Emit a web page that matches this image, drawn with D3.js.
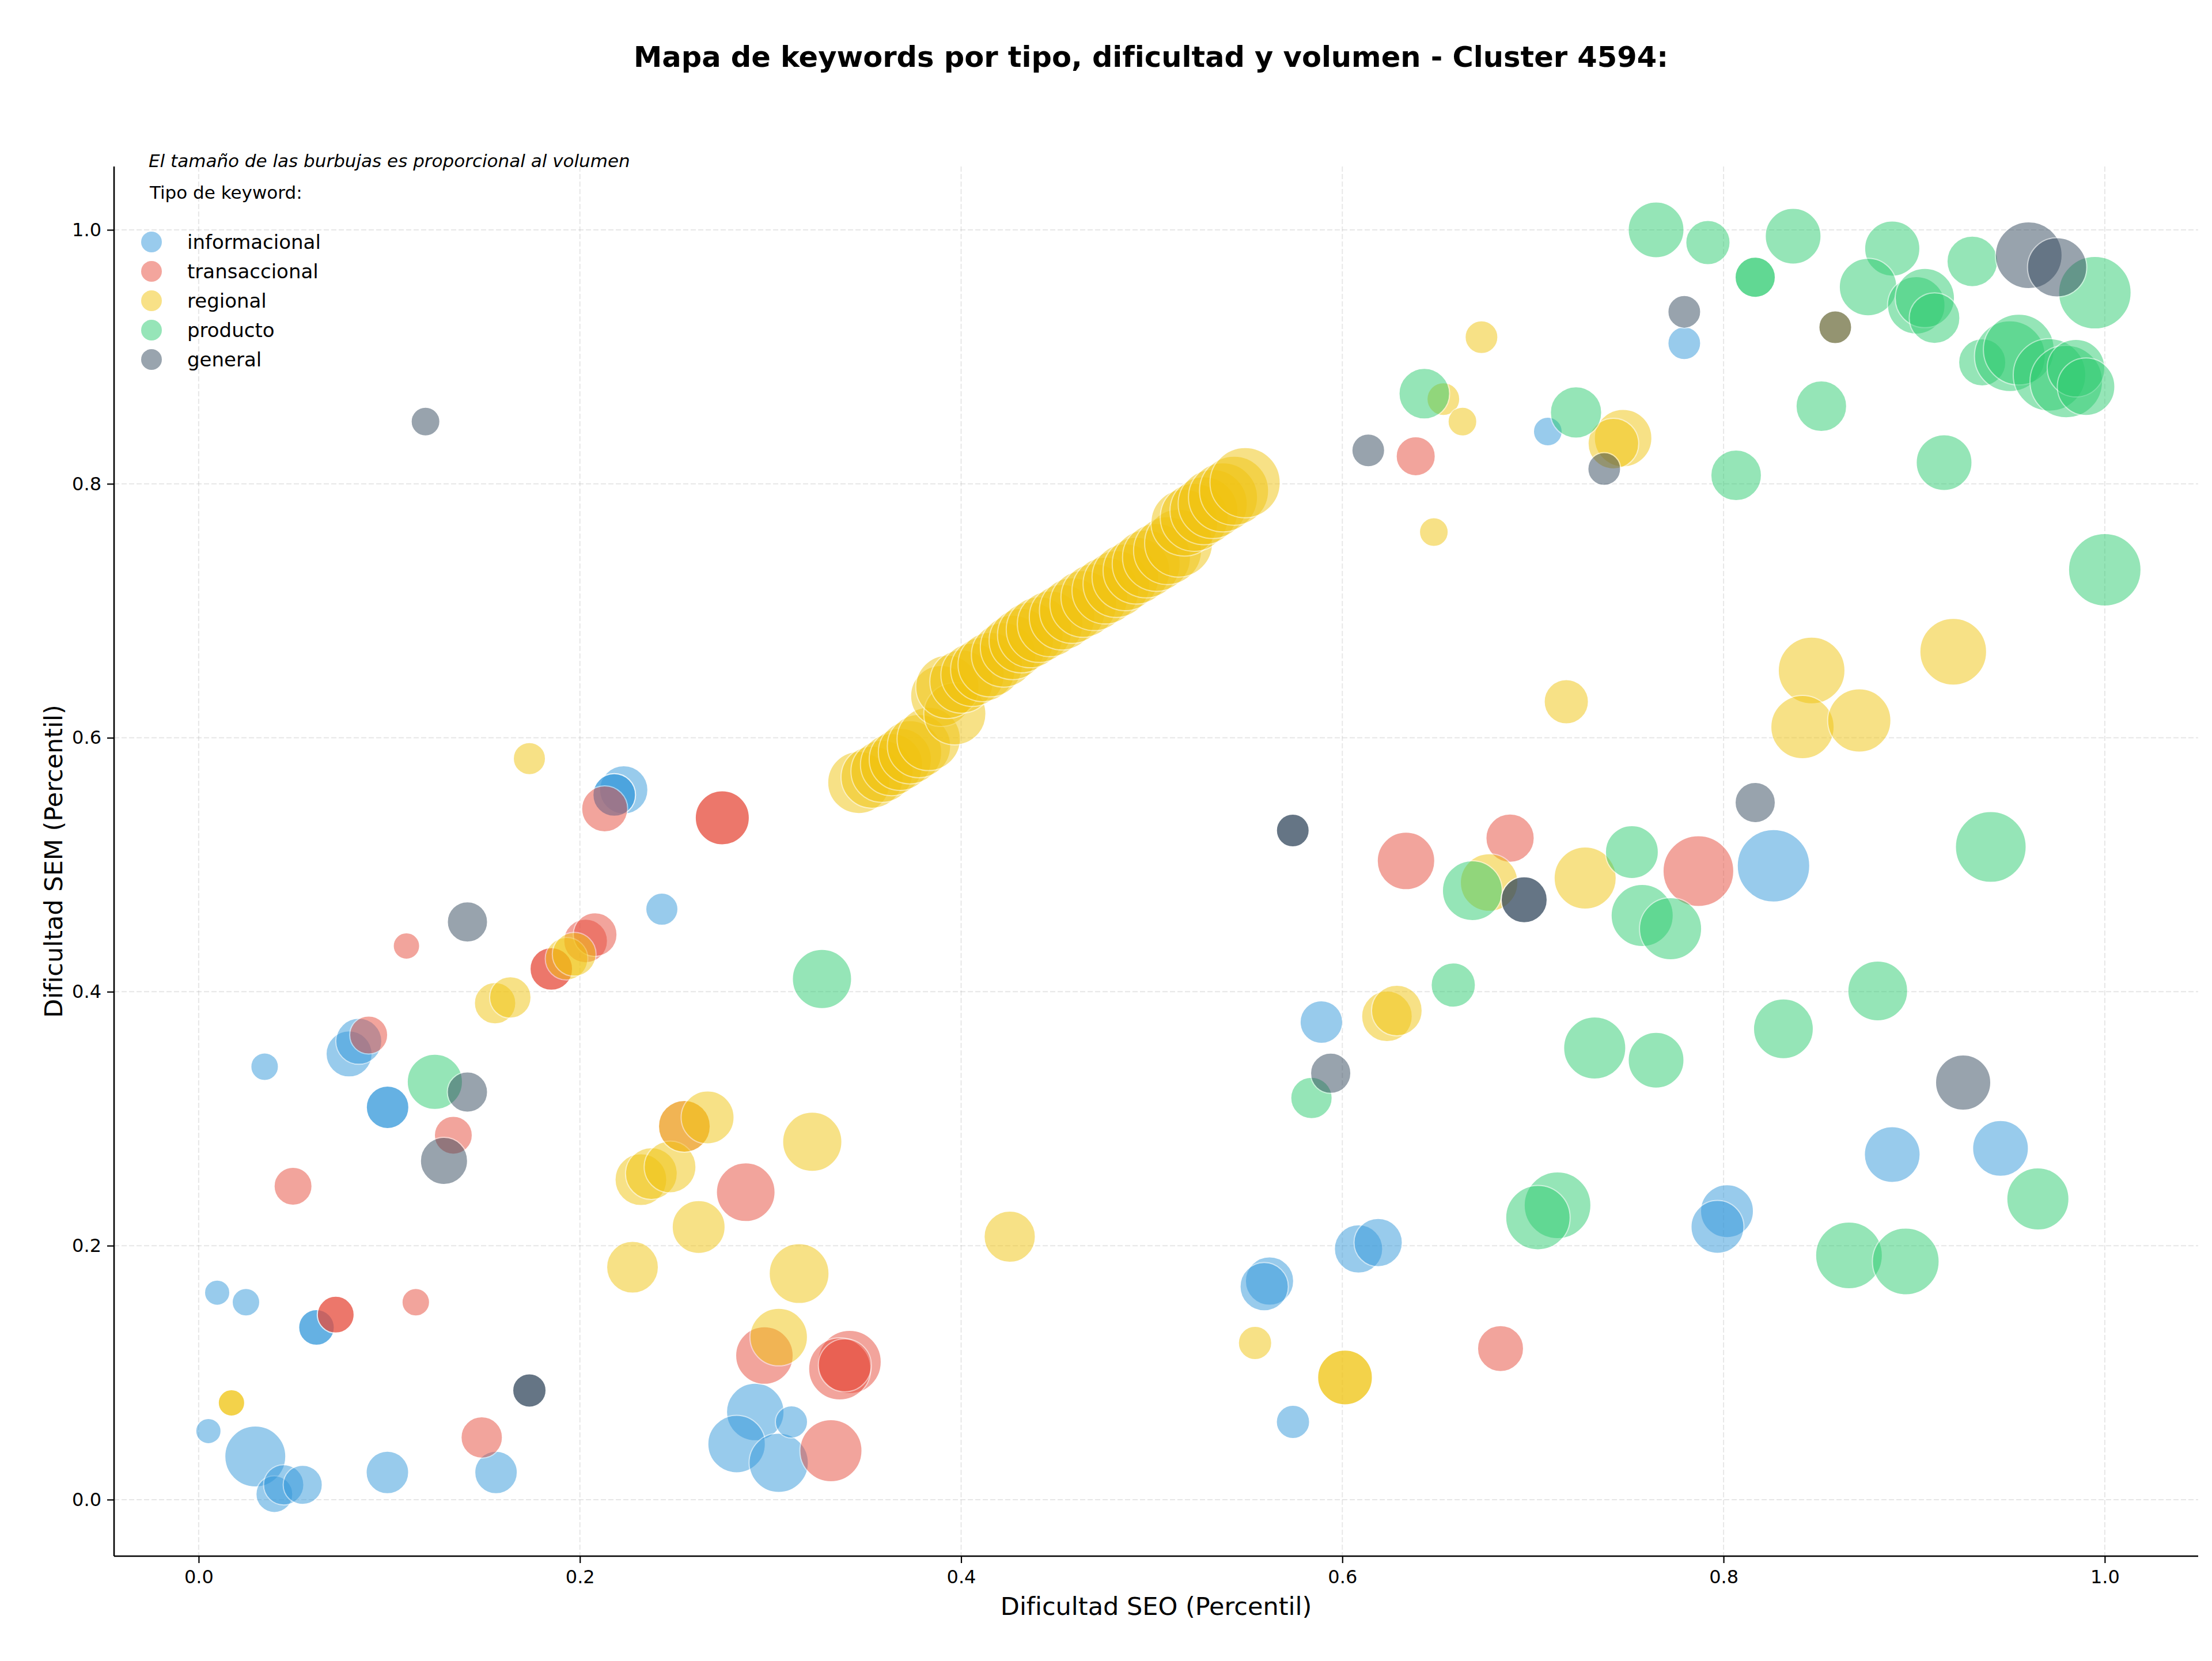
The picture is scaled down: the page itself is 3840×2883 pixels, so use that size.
<!DOCTYPE html>
<html lang="es">
<head>
<meta charset="utf-8">
<script src="https://d3js.org/d3.v7.min.js"></script>
<style>
  body { margin: 0; background: #fff; }
  svg { display: block; font-family: "DejaVu Sans", sans-serif; }
</style>
</head>
<body>
<div id="chart"></div>
<script>
// tipos y colores
var tipos = ["informacional", "transaccional", "regional", "producto", "general"];
var colores = ["#3498db", "#e74c3c", "#f1c40f", "#2ecc71", "#34495e"];
var ticks = [0.0, 0.2, 0.4, 0.6, 0.8, 1.0];

// [dificultad SEO, dificultad SEM, volumen]
var informacional = [
  [0.0346,0.341,576],[0.0789,0.351,1600],[0.084,0.361,1600],[0.0991,0.309,1369],[0.0991,0.309,1369],
  [0.0097,0.163,484],[0.0248,0.1555,576],[0.0618,0.1356,961],[0.0618,0.1356,961],[0.0051,0.054,484],
  [0.0297,0.034,2809],[0.0397,0.0043,1024],[0.0446,0.0117,1225],[0.0546,0.0117,1156],[0.099,0.0214,1369],
  [0.156,0.0214,1369],[0.243,0.465,784],[0.292,0.069,2500],[0.2822,0.0438,2500],[0.3043,0.029,2652],
  [0.311,0.0612,784],[0.223,0.559,1764],[0.218,0.555,1369],[0.218,0.555,1369],[0.5618,0.1722,1764],
  [0.559,0.1677,1764],[0.6085,0.1974,1764],[0.6188,0.2025,1764],[0.5741,0.0612,841],[0.589,0.3761,1369],
  [0.7078,0.8412,625],[0.7794,0.9107,812],[0.8262,0.4992,3969],[0.8885,0.2718,2352],[0.9453,0.2766,2352],
  [0.8018,0.2272,2116],[0.7968,0.2148,2116]
];
var transaccional = [
  [0.109,0.436,529],[0.185,0.418,1369],[0.185,0.418,1369],[0.203,0.440,1444],[0.208,0.445,1444],
  [0.0892,0.3659,1089],[0.1336,0.287,1089],[0.0495,0.2468,1089],[0.0719,0.1457,1024],[0.0719,0.1457,1024],
  [0.1139,0.1555,576],[0.1485,0.049,1296],[0.2548,0.294,2025],[0.287,0.2421,2601],[0.2968,0.1135,2500],
  [0.3415,0.1084,3025],[0.3363,0.103,2916],[0.339,0.1058,2116],[0.3317,0.0385,2916],[0.213,0.544,1600],
  [0.2747,0.537,2209],[0.2747,0.537,2209],[0.6385,0.8217,1156],[0.6334,0.503,2500],[0.688,0.521,1764],
  [0.7868,0.495,3782],[0.683,0.119,1600]
];
var regional = [
  [0.0172,0.0762,529],[0.0172,0.0762,529],[0.1555,0.391,1296],[0.1635,0.3955,1296],[0.193,0.426,1369],
  [0.197,0.4295,1444],[0.2276,0.183,2025],[0.232,0.252,2025],[0.2375,0.2568,2025],[0.2473,0.262,2025],
  [0.2548,0.294,2025],[0.267,0.301,2116],[0.2623,0.2147,2116],[0.3043,0.128,2500],[0.3219,0.2818,2652],
  [0.315,0.178,2704],[0.4255,0.2071,1989],[0.1735,0.5836,784],[0.673,0.9155,812],[0.653,0.8667,812],
  [0.663,0.849,625],[0.648,0.762,625],[0.5542,0.1234,841],[0.6014,0.0962,2266],[0.6014,0.0962,2266],
  [0.6234,0.3806,1936],[0.6286,0.3852,1936],[0.677,0.486,2500],[0.7274,0.4895,2916],[0.7473,0.836,2500],
  [0.7422,0.8317,1936],[0.8462,0.653,3364],[0.8414,0.6084,3025],[0.8712,0.6136,3025],[0.9205,0.6678,3364],
  [0.7175,0.6284,1482],[0.8586,0.9233,812],
  // diagonal
  [0.3463,0.5648,2916],[0.3533,0.5690,2916],[0.3585,0.5736,2916],[0.3635,0.5788,2916],[0.3681,0.5830,2916],
  [0.3732,0.5886,3025],[0.3779,0.5935,3025],[0.3830,0.5991,3025],[0.3895,0.6329,2809],[0.3967,0.6188,2916],
  [0.3928,0.6401,3025],[0.4002,0.6443,3025],[0.4060,0.6496,3025],[0.4114,0.6538,3136],[0.4153,0.6576,3136],
  [0.4223,0.6653,3136],[0.4270,0.6712,3136],[0.4316,0.6765,3136],[0.4363,0.6810,3249],[0.4409,0.6852,3249],
  [0.4467,0.6897,3249],[0.4530,0.6950,3249],[0.4583,0.7002,3249],[0.4641,0.7054,3364],[0.4699,0.7107,3364],
  [0.4757,0.7159,3364],[0.4815,0.7211,3364],[0.4862,0.7264,3364],[0.4920,0.7316,3364],[0.4971,0.7369,3481],
  [0.5025,0.7421,3481],[0.5083,0.7474,3481],[0.5141,0.7533,3481],[0.5171,0.7694,3364],[0.5223,0.7736,3481],
  [0.5274,0.7788,3481],[0.5320,0.7841,3600],[0.5374,0.7893,3600],[0.5432,0.7946,3600],[0.5490,0.8009,3721]
];
var producto = [
  [0.1239,0.329,2304],[0.327,0.410,2652],[0.643,0.871,1936],[0.7646,1.0,2352],[0.7918,0.990,1482],
  [0.8365,0.995,2352],[0.8166,0.9627,1225],[0.8166,0.9627,1225],[0.8885,0.9853,2304],[0.8758,0.955,2500],
  [0.9011,0.9406,2500],[0.9056,0.9463,2652],[0.9107,0.9305,1936],[0.9305,0.9752,1936],[0.9948,0.9505,3969],
  [0.9357,0.8956,1681],[0.9502,0.9005,3782],[0.9549,0.9057,3782],[0.971,0.8858,3969],[0.9798,0.8806,3969],
  [0.9849,0.8911,2500],[0.9902,0.8765,2500],[0.8513,0.8611,1936],[0.7226,0.8562,1989],[0.8066,0.8067,1936],
  [0.9157,0.8167,2352],[1.0,0.7323,3969],[0.9402,0.514,3782],[0.7519,0.51,2116],[0.6682,0.4796,2704],
  [0.5838,0.3163,1296],[0.6582,0.4053,1482],[0.7573,0.460,2916],[0.7722,0.4496,2916],[0.8809,0.4006,2704],
  [0.8314,0.3708,2704],[0.7324,0.3557,2916],[0.7646,0.3461,2352],[0.9649,0.2368,2916],[0.7129,0.2318,3364],
  [0.7026,0.2221,3136],[0.8658,0.1924,3364],[0.8956,0.1876,3364]
];
var general = [
  [0.141,0.455,1225],[0.141,0.321,1225],[0.1287,0.2668,1681],[0.1735,0.086,841],[0.1735,0.086,841],
  [0.119,0.849,625],[0.574,0.527,812],[0.574,0.527,812],[0.6136,0.8263,812],[0.7794,0.9355,812],
  [0.8586,0.9233,812],[0.9601,0.980,3364],[0.975,0.9705,2652],[0.7374,0.8117,812],[0.8166,0.549,1225],
  [0.6954,0.4724,1600],[0.6954,0.4724,1600],[0.9257,0.3285,2304],[0.5939,0.3358,1225]
];

var series = [informacional, transaccional, regional, producto, general];

var W = 3840, H = 2883;
var margin = {left: 198, right: 24, top: 289, bottom: 182};

var svg = d3.select("#chart").append("svg")
    .attr("width", W)
    .attr("height", H);

var x = d3.scaleLinear().domain([-0.0444, 1.049]).range([margin.left, W - margin.right]);
var y = d3.scaleLinear().domain([-0.0445, 1.0499]).range([H - margin.bottom, margin.top]);
var r = d3.scaleSqrt().domain([0, 6400]).range([0, 80]);

// grid
var grid = svg.append("g");
grid.selectAll(".gx").data(ticks).enter().append("line")
    .attr("x1", d => x(d)).attr("x2", d => x(d))
    .attr("y1", margin.top).attr("y2", H - margin.bottom)
    .attr("stroke", "#b0b0b0").attr("stroke-opacity", 0.3)
    .attr("stroke-width", 2).attr("stroke-dasharray", "9,4");
grid.selectAll(".gy").data(ticks).enter().append("line")
    .attr("y1", d => y(d)).attr("y2", d => y(d))
    .attr("x1", margin.left).attr("x2", W - margin.right)
    .attr("stroke", "#b0b0b0").attr("stroke-opacity", 0.3)
    .attr("stroke-width", 2).attr("stroke-dasharray", "9,4");

// burbujas
series.forEach(function(pts, i) {
  svg.append("g").selectAll("circle")
    .data(pts).enter().append("circle")
    .attr("cx", d => x(d[0]))
    .attr("cy", d => y(d[1]))
    .attr("r", d => r(d[2]))
    .attr("fill", colores[i])
    .attr("stroke", "#fff")
    .attr("stroke-width", 2)
    .attr("opacity", 0.5);
});

// ejes
var xAxis = svg.append("g")
    .attr("transform", "translate(0," + (H - margin.bottom) + ")")
    .call(d3.axisBottom(x).tickValues(ticks).tickFormat(d3.format(".1f")).tickSizeOuter(0).tickSize(12).tickPadding(12));
var yAxis = svg.append("g")
    .attr("transform", "translate(" + margin.left + ",0)")
    .call(d3.axisLeft(y).tickValues(ticks).tickFormat(d3.format(".1f")).tickSizeOuter(0).tickSize(12).tickPadding(10));
[xAxis, yAxis].forEach(function(a) {
  a.select(".domain").remove();
  a.selectAll(".tick line").attr("stroke", "#000").attr("stroke-width", 2.2);
  a.selectAll(".tick text").attr("font-size", 32).attr("font-family", "DejaVu Sans").attr("fill", "#000");
});
// spines
svg.append("line")
    .attr("x1", margin.left).attr("x2", W - margin.right)
    .attr("y1", H - margin.bottom).attr("y2", H - margin.bottom)
    .attr("stroke", "#000").attr("stroke-width", 2.6);
svg.append("line")
    .attr("x1", margin.left).attr("x2", margin.left)
    .attr("y1", margin.top).attr("y2", H - margin.bottom)
    .attr("stroke", "#000").attr("stroke-width", 2.6);

// textos
svg.append("text")
    .attr("x", 1998).attr("y", 116)
    .attr("text-anchor", "middle")
    .attr("font-size", 49.5).attr("font-weight", "bold")
    .text("Mapa de keywords por tipo, dificultad y volumen - Cluster 4594:");

svg.append("text")
    .attr("x", (margin.left + W - margin.right) / 2).attr("y", 2803)
    .attr("text-anchor", "middle")
    .attr("font-size", 43)
    .text("Dificultad SEO (Percentil)");

svg.append("text")
    .attr("transform", "translate(93," + ((margin.top + H - margin.bottom) / 2) + ") rotate(-90)")
    .attr("text-anchor", "middle")
    .attr("dominant-baseline", "central")
    .attr("font-size", 43)
    .text("Dificultad SEM (Percentil)");

svg.append("text")
    .attr("x", 258).attr("y", 290)
    .attr("font-size", 31).attr("font-style", "italic")
    .text("El tamaño de las burbujas es proporcional al volumen");

// leyenda
var leg = svg.append("g");
leg.append("text")
    .attr("x", 260).attr("y", 345)
    .attr("font-size", 31)
    .text("Tipo de keyword:");
var items = leg.selectAll(".item").data(tipos).enter().append("g")
    .attr("transform", (d, i) => "translate(263," + (420 + i * 51) + ")");
items.append("circle")
    .attr("r", 18)
    .attr("fill", (d, i) => colores[i])
    .attr("opacity", 0.5);
items.append("text")
    .attr("x", 62)
    .attr("dominant-baseline", "central")
    .attr("font-size", 34)
    .text(d => d);
</script>
</body>
</html>
